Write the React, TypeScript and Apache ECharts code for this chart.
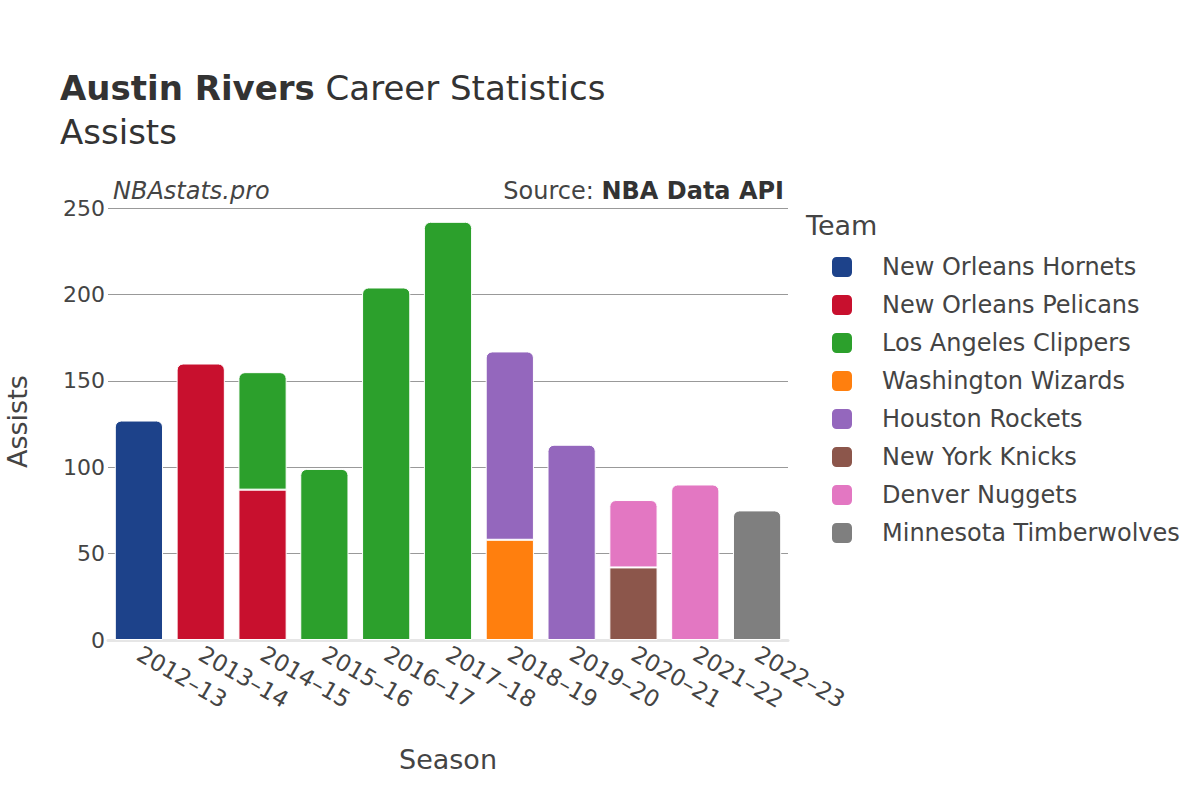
import React, { useEffect, useRef } from "react";
import * as echarts from "echarts";

const seasons = ["2012–13", "2013–14", "2014–15", "2015–16", "2016–17", "2017–18", "2018–19", "2019–20", "2020–21", "2021–22", "2022–23"];
const teams = ["New Orleans Hornets", "New Orleans Pelicans", "Los Angeles Clippers", "Washington Wizards", "Houston Rockets", "New York Knicks", "Denver Nuggets", "Minnesota Timberwolves"];
const colors = ["#1d428a", "#c8102e", "#2ca02c", "#ff7f0e", "#9467bd", "#8c564b", "#e377c2", "#7f7f7f"];

const hornets = [127, null, null, null, null, null, null, null, null, null, null];
const pelicans = [null, 160, 87, null, null, null, null, null, null, null, null];
const clippers = [null, null, 68, 99, 204, 242, null, null, null, null, null];
const wizards = [null, null, null, null, null, null, 58, null, null, null, null];
const rockets = [null, null, null, null, null, null, 109, 113, null, null, null];
const knicks = [null, null, null, null, null, null, null, null, 42, null, null];
const nuggets = [null, null, null, null, null, null, null, null, 39, 90, null];
const wolves = [null, null, null, null, null, null, null, null, null, null, 75];

const yTicks = [0, 50, 100, 150, 200, 250];

const FONT = "DejaVu Sans";

export default function App() {
  const ref = useRef<HTMLDivElement>(null);
  useEffect(() => {
    if (!ref.current) return;
    const chart = echarts.init(ref.current, null, { renderer: "svg" });
    const all = [hornets, pelicans, clippers, wizards, rockets, knicks, nuggets, wolves];
    const topIdx = seasons.map((_, i) => {
      let t = -1;
      all.forEach((arr, s) => {
        if (arr[i] != null) t = s;
      });
      return t;
    });
    const series = all.map((arr, s) => ({
      name: teams[s],
      type: "bar",
      stack: "total",
      barCategoryGap: "22%",
      itemStyle: { color: colors[s], borderColor: "#ffffff", borderWidth: 1 },
      data: arr.map((v, i) =>
        v == null
          ? null
          : topIdx[i] === s
          ? { value: v, itemStyle: { borderRadius: [6, 6, 0, 0] } }
          : { value: v }
      ),
    }));
    chart.setOption({
      animation: false,
      textStyle: { fontFamily: FONT },
      grid: { left: 108, right: 412, top: 208, bottom: 160, containLabel: false },
      xAxis: {
        type: "category",
        data: seasons,
        axisLine: { show: true, lineStyle: { color: "#e6e6e6", width: 3 } },
        axisTick: { show: false },
        axisLabel: { rotate: -30, fontSize: 23, color: "#444", fontFamily: FONT, margin: 12 },
      },
      yAxis: {
        type: "value",
        min: yTicks[0],
        max: yTicks[yTicks.length - 1],
        interval: 50,
        axisLine: { show: false },
        axisTick: { show: false },
        axisLabel: { fontSize: 22, color: "#444", fontFamily: FONT, margin: 3 },
        splitLine: { lineStyle: { color: "#999", width: 1 } },
      },
      legend: {
        orient: "vertical",
        left: 825,
        top: 250,
        icon: "roundRect",
        itemWidth: 22,
        itemHeight: 22,
        itemGap: 14,
        data: teams,
        textStyle: { fontSize: 24, color: "#444", fontFamily: FONT, padding: [0, 0, 0, 24] },
      },
      graphic: [
        {
          type: "text",
          left: 60,
          top: 71,
          style: {
            text: "{b|Austin Rivers}{n| Career Statistics}",
            rich: {
              b: { fontSize: 34, fontWeight: "bold", fill: "#333", fontFamily: FONT },
              n: { fontSize: 34, fill: "#333", fontFamily: FONT },
            },
          },
        },
        {
          type: "text",
          left: 60,
          top: 115,
          style: { text: "Assists", fontSize: 34, fill: "#333", fontFamily: FONT },
        },
        {
          type: "text",
          left: 113,
          top: 179,
          style: { text: "NBAstats.pro", fontSize: 24, fontStyle: "italic", fill: "#444", fontFamily: FONT },
        },
        {
          type: "text",
          right: 416,
          top: 179,
          style: {
            text: "{n|Source: }{b|NBA Data API}",
            rich: {
              b: { fontSize: 24, fontWeight: "bold", fill: "#333", fontFamily: FONT },
              n: { fontSize: 24, fill: "#444", fontFamily: FONT },
            },
          },
        },
        {
          type: "text",
          left: 806,
          top: 212,
          style: { text: "Team", fontSize: 27, fill: "#444", fontFamily: FONT },
        },
        {
          type: "text",
          left: 399,
          top: 746,
          style: { text: "Season", fontSize: 27, fill: "#444", fontFamily: FONT },
        },
        {
          type: "text",
          x: 4,
          y: 468,
          rotation: Math.PI / 2,
          style: { text: "Assists", fontSize: 27, fill: "#444", fontFamily: FONT },
        },
      ],
      series,
    });
    return () => chart.dispose();
  }, []);
  return <div ref={ref} style={{ width: 1200, height: 800, position: "absolute", left: 0, top: 0 }} />;
}
